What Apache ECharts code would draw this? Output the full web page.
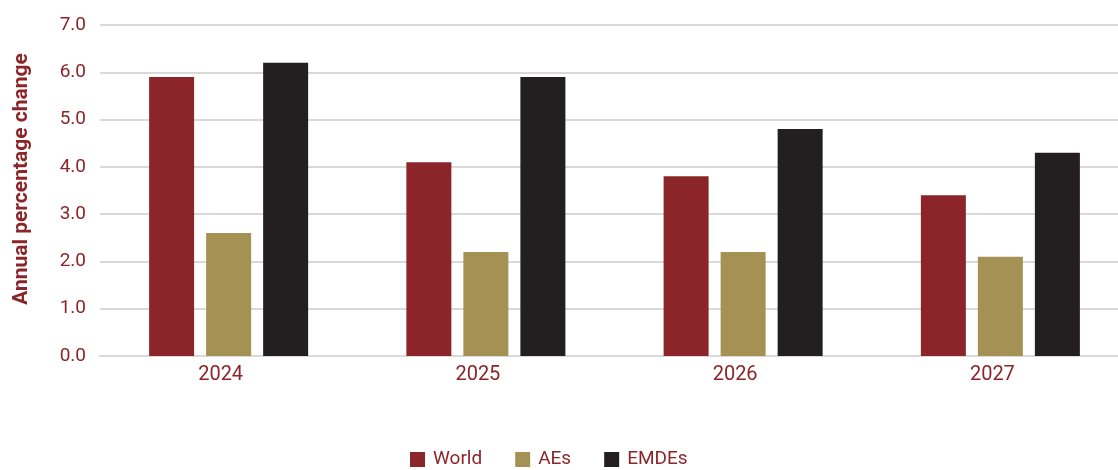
<!DOCTYPE html>
<html>
<head>
<meta charset="utf-8">
<script src="https://cdn.jsdelivr.net/npm/echarts@6/dist/echarts.min.js"></script>
<style>html,body{margin:0;padding:0;background:#fff;overflow:hidden;width:1118px;height:470px;}#c{width:1130px;height:470px;}</style>
</head>
<body>
<div id="c"></div>
<script>
const categories = ['2024', '2025', '2026', '2027'];
const world = [5.9, 4.1, 3.8, 3.4];
const aes = [2.6, 2.2, 2.2, 2.1];
const emdes = [6.2, 5.9, 4.8, 4.3];
const yTicks = [0, 1, 2, 3, 4, 5, 6, 7];

const red = '#8B2529';
const chart = echarts.init(document.getElementById('c'));
const font = 'Roboto, "Noto Sans", sans-serif';
chart.setOption({
  animation: false,
  grid: { left: 100, right: 1, top: 25, bottom: 114, containLabel: false },
  legend: {
    left: 410, bottom: 1, padding: 0,
    itemWidth: 15, itemHeight: 15, itemGap: 33,
    icon: 'rect',
    textStyle: { color: red, fontSize: 19, fontFamily: font, padding: [0, 0, 0, 3] },
    data: ['World', 'AEs', 'EMDEs']
  },
  xAxis: {
    type: 'category', data: categories,
    axisLine: { lineStyle: { color: '#D9D9D9', width: 2 } },
    axisTick: { show: false },
    axisLabel: { color: red, fontSize: 20, fontFamily: font, margin: 9, padding: [0, 16, 0, 0] }
  },
  yAxis: {
    type: 'value', min: 0, max: 7, interval: 1,
    axisLine: { show: false }, axisTick: { show: false },
    splitLine: { lineStyle: { color: '#D9D9D9', width: 2 } },
    axisLabel: { color: red, fontSize: 19, fontFamily: font, margin: 14, formatter: v => yTicks.includes(v) ? v.toFixed(1) : '' }
  },
  graphic: [{
    type: 'text', x: 22, y: 179, rotation: Math.PI / 2,
    style: { text: 'Annual percentage change', fill: red, font: 'bold 21px ' + font, align: 'center', verticalAlign: 'middle' }
  }],
  series: [
    { name: 'World', type: 'bar', data: world, barWidth: 45, barGap: '26.7%', itemStyle: { color: red } },
    { name: 'AEs', type: 'bar', data: aes, barWidth: 45, barGap: '26.7%', itemStyle: { color: '#A69154' } },
    { name: 'EMDEs', type: 'bar', data: emdes, barWidth: 45, barGap: '26.7%', itemStyle: { color: '#231F20' } }
  ]
});
</script>
</body>
</html>
